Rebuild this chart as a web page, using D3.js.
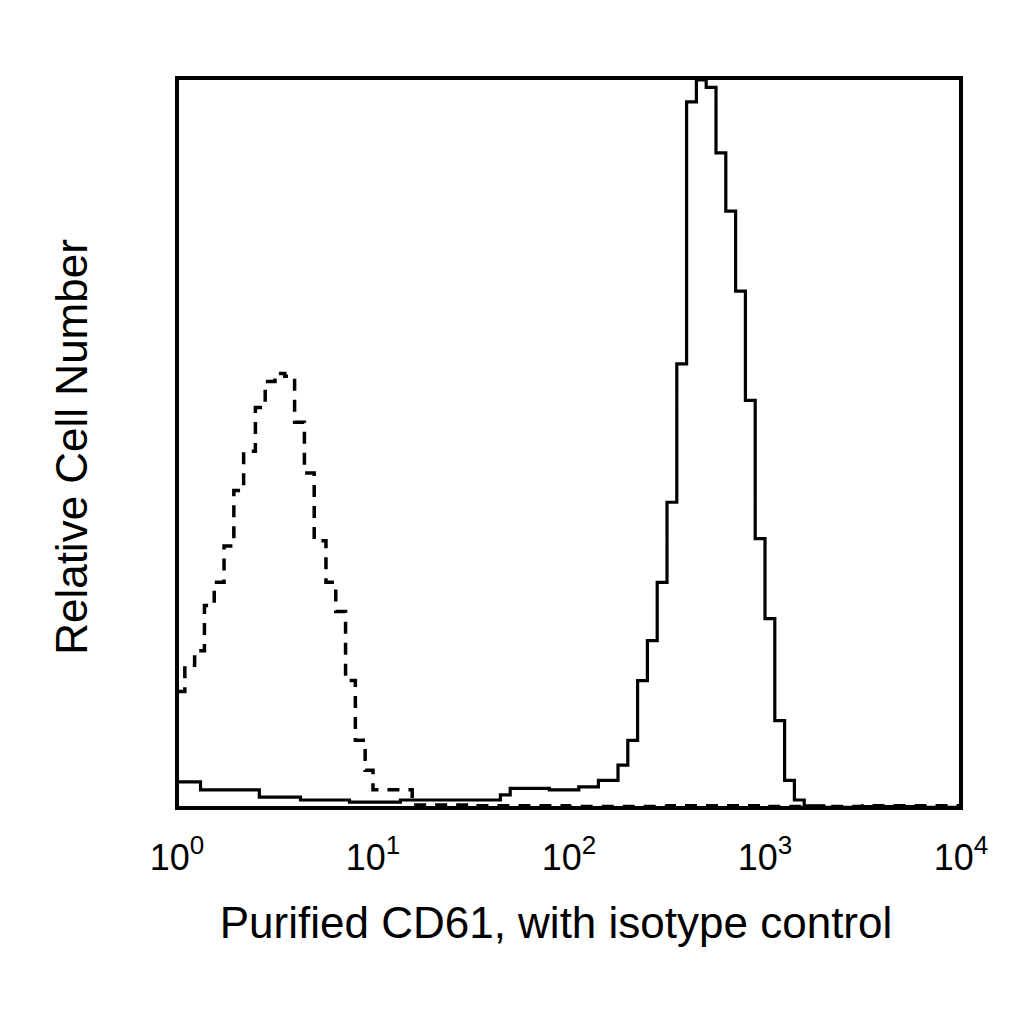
<!DOCTYPE html>
<html><head><meta charset="utf-8">
<script src="https://cdn.jsdelivr.net/npm/d3@7"></script>
<style>body{margin:0;background:#fff}text{font-family:"Liberation Sans",Arial,sans-serif;fill:#000}</style>
</head><body>
<svg id="chart" width="1024" height="1024"></svg>
<script>
// fluorescence (log10 units) and relative counts
var solidLog = [0, 0.12, 0.42, 0.63, 0.88, 1.14, 1.4, 1.65, 1.7, 1.9, 2.05, 2.15, 2.25, 2.3, 2.35, 2.4, 2.45, 2.5, 2.55, 2.6, 2.65, 2.7, 2.75, 2.8, 2.85, 2.9, 2.95, 3.0, 3.05, 3.1, 3.15, 3.2, 3.3, 3.5, 3.8, 4.0];
var solidVal = [3.6, 2.5, 1.5, 1.1, 0.8, 1.1, 1.1, 1.8, 2.7, 2.5, 2.9, 3.8, 5.9, 9.3, 17.5, 23, 31, 42, 61, 97, 100, 99, 90, 82, 71, 56, 37, 26, 12, 3.8, 1.1, 0.3, 0.1, 0.2, 0.1, 0];
var dashLog = [0, 0.04, 0.09, 0.14, 0.19, 0.24, 0.29, 0.34, 0.4, 0.45, 0.5, 0.55, 0.6, 0.65, 0.7, 0.76, 0.81, 0.86, 0.91, 0.96, 1.0, 1.2, 1.5, 2.0, 2.5, 3.0, 3.5, 4.0];
var dashVal = [16, 19.6, 21.6, 27.8, 31, 36, 43.6, 49, 55, 58.6, 59.7, 59.3, 53, 46, 36.7, 31, 27, 17.5, 9.3, 5.2, 2.5, 0.4, 0.3, 0.2, 0.3, 0.2, 0.3, 0];
var tickExps = [0, 1, 2, 3, 4];

var svg = d3.select('#chart');
var x = d3.scaleLog().domain([1, 10000]).range([177, 961]);
var y = d3.scaleLinear().domain([0, 100]).range([808, 80]);

var line = d3.line()
  .x(function(d) { return x(Math.pow(10, d[0])); })
  .y(function(d) { return y(d[1]); })
  .curve(d3.curveStepAfter);

svg.append('path').datum(d3.zip(dashLog, dashVal)).attr('d', line)
  .attr('fill', 'none').attr('stroke', '#000').attr('stroke-width', 3.5)
  .attr('stroke-dasharray', '12,9');
svg.append('path').datum(d3.zip(solidLog, solidVal)).attr('d', line)
  .attr('fill', 'none').attr('stroke', '#000').attr('stroke-width', 3.2);

svg.append('rect').attr('x', 177).attr('y', 78).attr('width', 784).attr('height', 730)
  .attr('fill', 'none').attr('stroke', '#000').attr('stroke-width', 4);

var lab = svg.selectAll('text.tick').data(tickExps).enter().append('text')
  .attr('class', 'tick')
  .attr('x', function(d) { return x(Math.pow(10, d)); })
  .attr('y', 870).attr('text-anchor', 'middle').style('font-size', '36px');
lab.append('tspan').text('10');
lab.append('tspan').attr('dy', -16).style('font-size', '26px').text(function(d) { return d; });

svg.append('text').attr('x', 556).attr('y', 938).attr('text-anchor', 'middle')
  .style('font-size', '44px').text('Purified CD61, with isotype control');
svg.append('text').attr('transform', 'translate(87,447) rotate(-90)').attr('text-anchor', 'middle')
  .style('font-size', '44px').text('Relative Cell Number');
</script>
</body></html>
